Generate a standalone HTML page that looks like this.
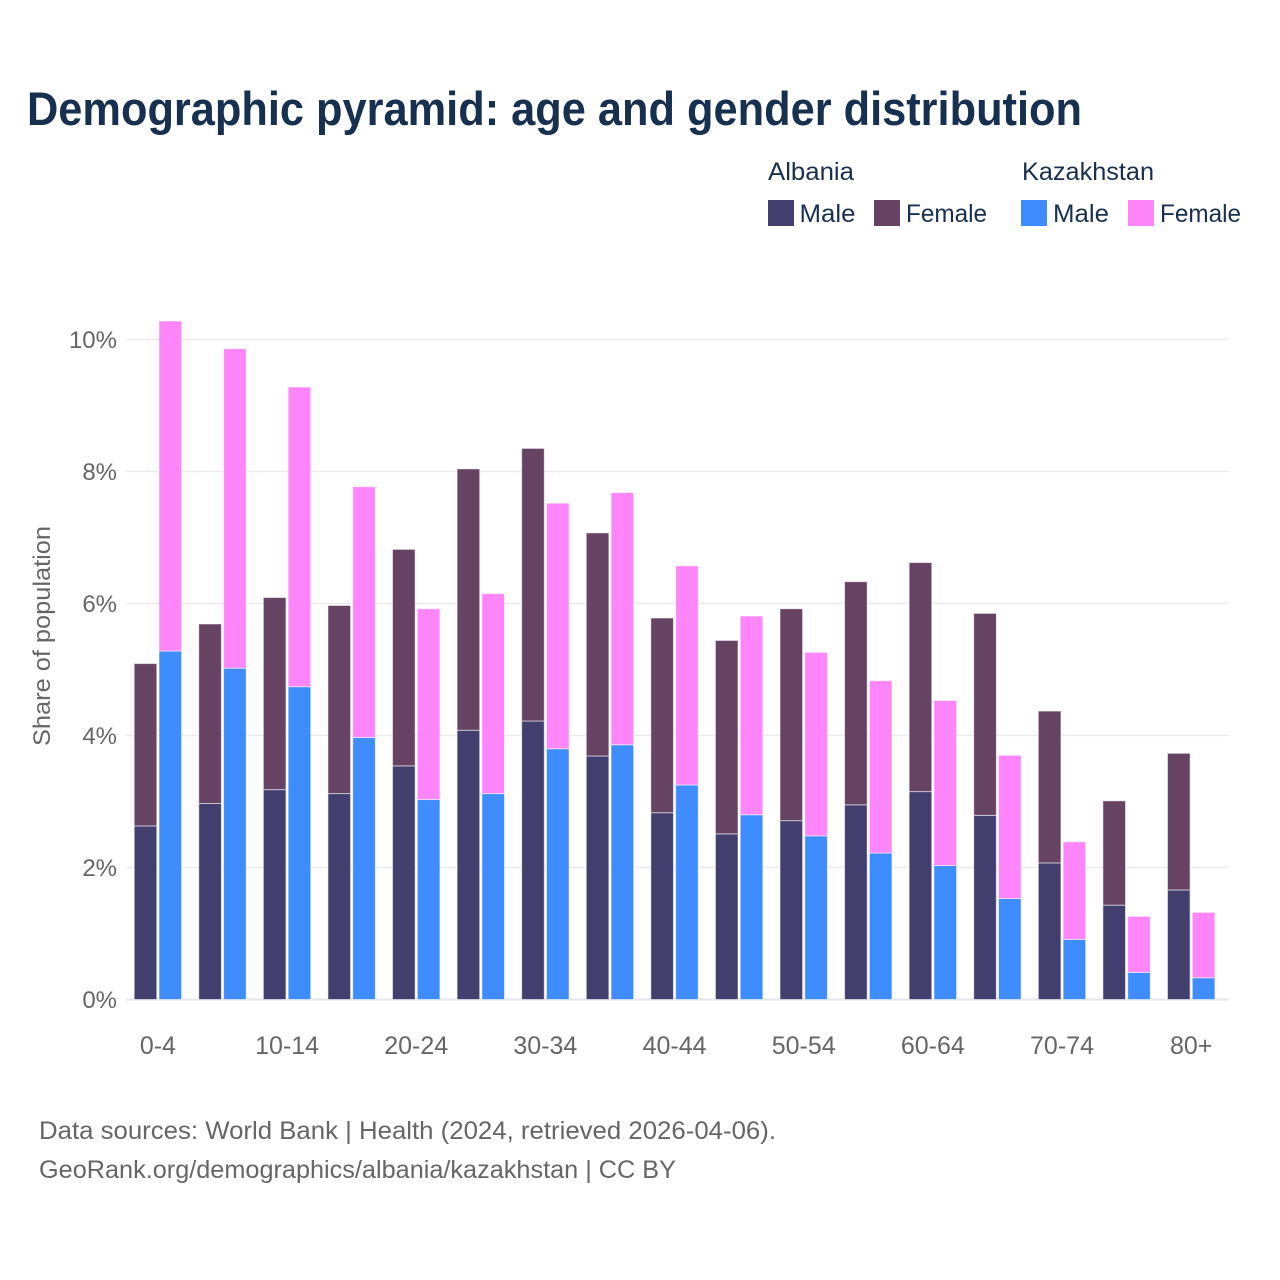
<!DOCTYPE html>
<html lang="en">
<head>
<meta charset="utf-8">
<title>Demographic pyramid: age and gender distribution</title>
<style>
html,body{margin:0;padding:0;background:#fff;}
svg{display:block;font-family:"Liberation Sans",sans-serif;}
</style>
</head>
<body>
<svg id="chart" xmlns="http://www.w3.org/2000/svg" width="1280" height="1280" viewBox="0 0 1280 1280">
  <rect x="0" y="0" width="1280" height="1280" fill="#ffffff"/>
  <text x="27" y="125" font-size="47" font-weight="700" fill="#17304f" textLength="1055" lengthAdjust="spacingAndGlyphs">Demographic pyramid: age and gender distribution</text>

  <g font-size="25" fill="#17304f">
    <text x="768" y="180" textLength="86" lengthAdjust="spacingAndGlyphs">Albania</text>
    <text x="1022" y="180" textLength="132" lengthAdjust="spacingAndGlyphs">Kazakhstan</text>
    <rect x="768" y="200" width="26" height="26" fill="#423f6f"/>
    <text x="799.5" y="222" textLength="56" lengthAdjust="spacingAndGlyphs">Male</text>
    <rect x="874" y="200" width="26" height="26" fill="#664263"/>
    <text x="906" y="222" textLength="81" lengthAdjust="spacingAndGlyphs">Female</text>
    <rect x="1021" y="200" width="26" height="26" fill="#3f8cff"/>
    <text x="1053" y="222" textLength="56" lengthAdjust="spacingAndGlyphs">Male</text>
    <rect x="1128" y="200" width="26" height="26" fill="#ff85fb"/>
    <text x="1160" y="222" textLength="81" lengthAdjust="spacingAndGlyphs">Female</text>
  </g>

  <g id="grid"></g>
  <g id="bars"></g>
  <g id="y-labels"></g>
  <g id="x-labels"></g>

  <text transform="translate(50 636) rotate(-90)" text-anchor="middle" font-size="24" fill="#666666" textLength="220" lengthAdjust="spacingAndGlyphs">Share of population</text>

  <g font-size="25" fill="#666666">
    <text x="39" y="1139" textLength="737" lengthAdjust="spacingAndGlyphs">Data sources: World Bank | Health (2024, retrieved 2026-04-06).</text>
    <text x="39" y="1178" textLength="637" lengthAdjust="spacingAndGlyphs">GeoRank.org/demographics/albania/kazakhstan | CC BY</text>
  </g>
</svg>
<script>
const ageGroups = ["0-4","5-9","10-14","15-19","20-24","25-29","30-34","35-39","40-44","45-49","50-54","55-59","60-64","65-69","70-74","75-79","80+"];
const albaniaMale = [2.63,2.97,3.18,3.12,3.54,4.08,4.22,3.69,2.83,2.51,2.71,2.95,3.15,2.79,2.07,1.43,1.66];
const albaniaFemale = [2.46,2.72,2.91,2.85,3.28,3.96,4.13,3.38,2.95,2.93,3.21,3.38,3.47,3.06,2.30,1.58,2.07];
const kazakhstanMale = [5.28,5.02,4.74,3.97,3.03,3.12,3.80,3.86,3.25,2.80,2.48,2.22,2.03,1.53,0.91,0.41,0.33];
const kazakhstanFemale = [5.00,4.84,4.54,3.80,2.89,3.03,3.72,3.82,3.32,3.01,2.78,2.61,2.50,2.17,1.48,0.85,0.99];
const yTicks = [0,2,4,6,8,10];
const xLabelEvery = 2;

const NS = "http://www.w3.org/2000/svg";
const yScale = v => 999.5 - v * 66;
const xScale = i => 134.2 + i * 64.58;
const barW = 22.6;
const barGap = 24.8;

function make(tag, attrs, parent, txt) {
  const el = document.createElementNS(NS, tag);
  for (const k in attrs) el.setAttribute(k, attrs[k]);
  if (txt !== undefined) el.textContent = txt;
  parent.appendChild(el);
  return el;
}

const gridG = document.getElementById("grid");
const yG = document.getElementById("y-labels");
yTicks.forEach(t => {
  const line = make("line", {x1: 126, x2: 1229, y1: yScale(t), y2: yScale(t), stroke: t === 0 ? "#e6e6ee" : "#ebe8ee", "stroke-width": t === 0 ? 2 : 1.3}, gridG);
  
  
  const label = make("text", {x: 117, y: yScale(t) + 8.5, "text-anchor": "end", "font-size": 24, fill: "#666666"}, yG, t + "%");
  
  
});

const barsG = document.getElementById("bars");
function drawBar(x, y0, v, color) {
  const top = yScale(y0 + v);
  const h = yScale(y0) - top;
  const r = make("rect", {x: x, y: top, width: barW, height: h, fill: color, stroke: "#ffffff", "stroke-opacity": 0.55, "stroke-width": 1}, barsG);
  
  
}
ageGroups.forEach((g, i) => {
  const x = xScale(i);
  drawBar(x, 0, albaniaMale[i], "#423f6f");
  drawBar(x, albaniaMale[i], albaniaFemale[i], "#664263");
  drawBar(x + barGap, 0, kazakhstanMale[i], "#3f8cff");
  drawBar(x + barGap, kazakhstanMale[i], kazakhstanFemale[i], "#ff85fb");
});

const xG = document.getElementById("x-labels");
ageGroups.forEach((g, i) => {
  if (i % xLabelEvery !== 0) return;
  const label = make("text", {x: xScale(i) + 23.7, y: 1054, "text-anchor": "middle", "font-size": 25, fill: "#666666"}, xG, g);
  
  
});
</script>
</body>
</html>
